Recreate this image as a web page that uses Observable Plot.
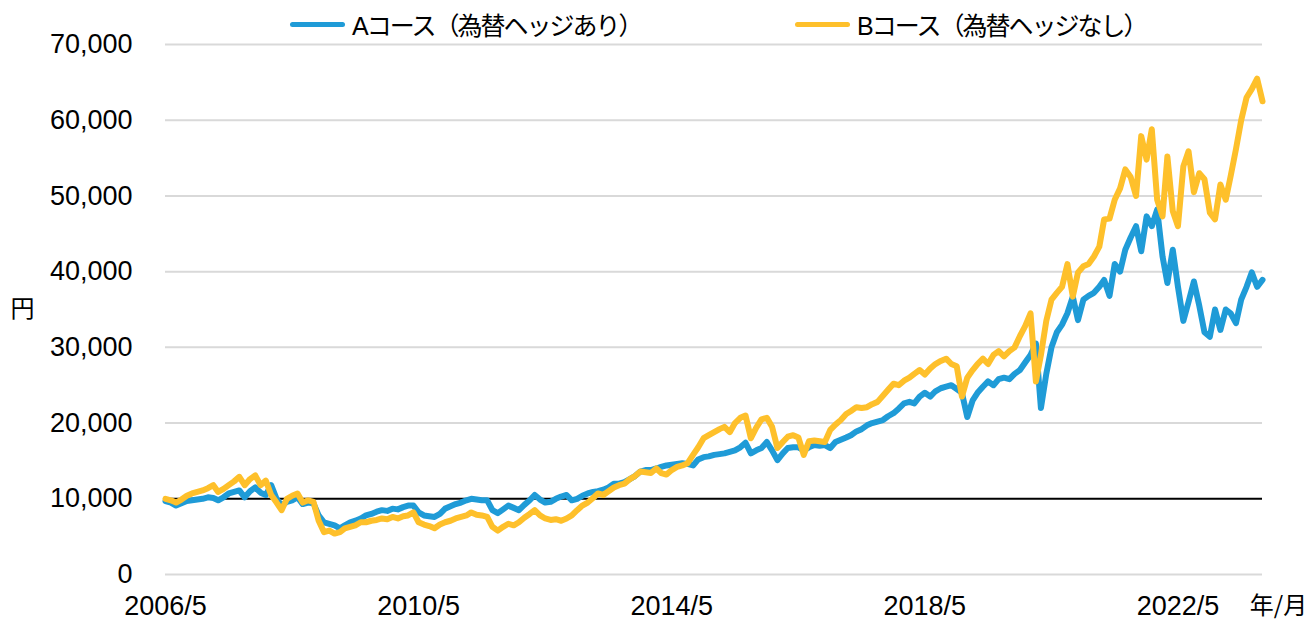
<!DOCTYPE html>
<html><head><meta charset="utf-8">
<script src="https://cdn.jsdelivr.net/npm/d3@7"></script>
<script src="https://cdn.jsdelivr.net/npm/@observablehq/plot@0.6"></script>
<style>
body{margin:0;background:#fff;}
#wrap{position:relative;width:1312px;height:621px;overflow:hidden;}
.leg{position:absolute;top:9px;height:30px;display:flex;align-items:center;font-family:"Liberation Sans",Arial,"Noto Sans CJK JP",sans-serif;font-size:25px;letter-spacing:-2px;color:#000;white-space:nowrap;}
.sw{width:55px;height:5px;border-radius:3px;margin-right:7px;}
#chart{position:absolute;left:0;top:0;}
</style></head>
<body><div id="wrap"><div id="chart"></div></div>
<script>
// Series labels and colours
const seriesNames = ["Aコース（為替ヘッジあり）", "Bコース（為替ヘッジなし）"];
const seriesColors = ["#1f9bd7", "#fec02b"];
// Monthly points from 2006/5 to 2023/9 (yen)
const firstMonth = [2006, 5];
const lastMonth = [2023, 9];
const courseA = [
 9700, 9500, 9100, 9400, 9700, 9800, 9900,10000,10200,10100, 9800,10200,
10700,10900,11100,10200,11000,11500,10800,10500,11800,10000, 9100, 9600,
 9800,10200, 9300, 9500, 9400, 7800, 6900, 6700, 6500, 6100, 6500, 6900,
 7100, 7400, 7800, 8000, 8300, 8500, 8400, 8700, 8600, 8900, 9100, 9100,
 8200, 7800, 7700, 7600, 8000, 8700, 9000, 9300, 9500, 9800,10000, 9900,
 9800, 9800, 8500, 8100, 8600, 9100, 8800, 8500, 9200, 9800,10500, 9900,
 9500, 9600,10000,10300,10500, 9800,10000,10400,10700,10900,11000,11200,
11500,12000,12000,12200,12600,13000,13600,13800,13800,14000,14200,14400,
14500,14600,14700,14600,14400,15200,15500,15600,15800,15900,16000,16200,
16400,16800,17400,16000,16400,16700,17500,16400,15100,16000,16700,16800,
16800,16400,16800,17100,17000,17100,16700,17500,17800,18100,18400,18900,
19200,19700,20000,20200,20400,20900,21300,21900,22600,22800,22600,23500,
24000,23500,24200,24600,24800,25000,24500,24000,20800,23000,24000,24800,
25500,25000,25800,26000,25800,26500,27000,28000,29000,30500,22000,26500,
30000,32000,33000,34500,36700,33600,36300,36800,37200,38000,38900,36800,
41000,40000,42900,44500,46000,42700,47300,46000,48200,42000,38500,42900,
38000,33500,36000,38700,35500,32000,31400,35000,32300,35000,34500,33200,
36300,38000,39900,38000,38900,36700
];
const courseB = [
10000, 9800, 9500, 9900,10400,10700,10900,11100,11400,11800,10900,11300,
11800,12300,12900,11800,12600,13100,11800,12400,10500, 9500, 8500,10000,
10400,10700, 9500, 9800, 9600, 7100, 5600, 5800, 5400, 5600, 6100, 6300,
 6500, 6900, 6900, 7100, 7200, 7400, 7300, 7600, 7400, 7700, 7800, 8200,
 6900, 6600, 6400, 6100, 6600, 6900, 7100, 7400, 7600, 7800, 8200, 7900,
 7800, 7600, 6300, 5800, 6300, 6700, 6500, 6900, 7500, 8000, 8500, 7800,
 7400, 7200, 7300, 7100, 7400, 7800, 8500, 9100, 9500,10100,10700,10500,
11000,11500,11800,12000,12600,13000,13600,13500,13400,14000,13400,13200,
13800,14200,14400,14700,15800,16800,18000,18400,18800,19200,19500,18800,
20000,20700,21000,18000,19400,20500,20700,19500,16700,17500,18200,18400,
18100,15800,17600,17700,17600,17500,19100,19800,20400,21200,21600,22100,
22000,22100,22500,22800,23600,24400,25200,25000,25600,26000,26500,27000,
26400,27200,27800,28200,28500,27800,27500,23500,26000,27000,27800,28500,
27800,29000,29500,28800,29500,30000,31500,32800,34500,25500,29000,33500,
36300,37200,38000,41000,36700,39900,40700,41000,42000,43300,46900,47000,
49500,51000,53500,52500,50000,57900,54800,58800,49500,47300,55200,48000,
46000,53900,55900,50500,53000,52200,47800,46900,51500,49500,52600,56200,
60000,63000,64100,65500,62500
];
const yTicks = [0, 10000, 20000, 30000, 40000, 50000, 60000, 70000];
const yGrid = [0, 20000, 30000, 40000, 50000, 60000, 70000];
const baseLine = [10000];
const xTickLabels = ["2006/5", "2010/5", "2014/5", "2018/5", "2022/5"];
const yUnit = "円";
const xUnit = "年/月";

const months = d3.utcMonth.range(
  new Date(Date.UTC(firstMonth[0], firstMonth[1] - 1, 1)),
  new Date(Date.UTC(lastMonth[0], lastMonth[1], 1))
);
const rowsA = months.map((d, i) => ({date: d, v: courseA[i]}));
const rowsB = months.map((d, i) => ({date: d, v: courseB[i]}));
const xTicks = xTickLabels.map(s => { const [y, m] = s.split("/").map(Number); return new Date(Date.UTC(y, m - 1, 1)); });

const font = '"Liberation Sans", Arial, "Noto Sans CJK JP", sans-serif';
const plot = Plot.plot({
  width: 1312, height: 621,
  marginTop: 44, marginBottom: 47, marginLeft: 165, marginRight: 50,
  style: {fontFamily: font, fontSize: "27px", color: "#000", background: "#fff", overflow: "visible"},
  x: {type: "utc", domain: [months[0], months[months.length - 1]]},
  y: {domain: [0, 70000]},
  marks: [
    Plot.ruleY(yGrid, {stroke: "#d9d9d9", strokeWidth: 2}),
    Plot.ruleY(baseLine, {stroke: "#000", strokeWidth: 2}),
    Plot.lineY(rowsA, {x: "date", y: "v", stroke: seriesColors[0], strokeWidth: 6, strokeLinejoin: "round", strokeLinecap: "round"}),
    Plot.lineY(rowsB, {x: "date", y: "v", stroke: seriesColors[1], strokeWidth: 6, strokeLinejoin: "round", strokeLinecap: "round"}),
    Plot.axisY({ticks: yTicks, tickSize: 0, tickPadding: 33, tickFormat: d3.format(","), label: null, fontSize: 27}),
    Plot.axisX({ticks: xTicks, tickSize: 0, tickPadding: 21, tickFormat: d => `${d.getUTCFullYear()}/${d.getUTCMonth() + 1}`, label: null, fontSize: 27}),
    Plot.text([yUnit], {text: d => d, frameAnchor: "left", dx: -143, textAnchor: "middle", lineAnchor: "middle", fontSize: 24, fontFamily: '"Noto Sans CJK JP", sans-serif'}),
    Plot.text([xUnit], {text: d => d, frameAnchor: "bottom-right", dx: 16, dy: 32, textAnchor: "middle", lineAnchor: "middle", fontSize: 24, fontFamily: '"Noto Sans CJK JP", sans-serif'})
  ]
});
document.getElementById("chart").appendChild(plot);

// Legend (HTML above the plot area)
const legendX = [290, 795];
const wrap = document.getElementById("wrap");
seriesNames.forEach((name, i) => {
  const item = document.createElement("div");
  item.className = "leg";
  item.style.left = legendX[i] + "px";
  const sw = document.createElement("div");
  sw.className = "sw";
  sw.style.background = seriesColors[i];
  const t = document.createElement("span");
  t.textContent = name;
  item.appendChild(sw); item.appendChild(t);
  wrap.appendChild(item);
});
</script>
</body></html>
